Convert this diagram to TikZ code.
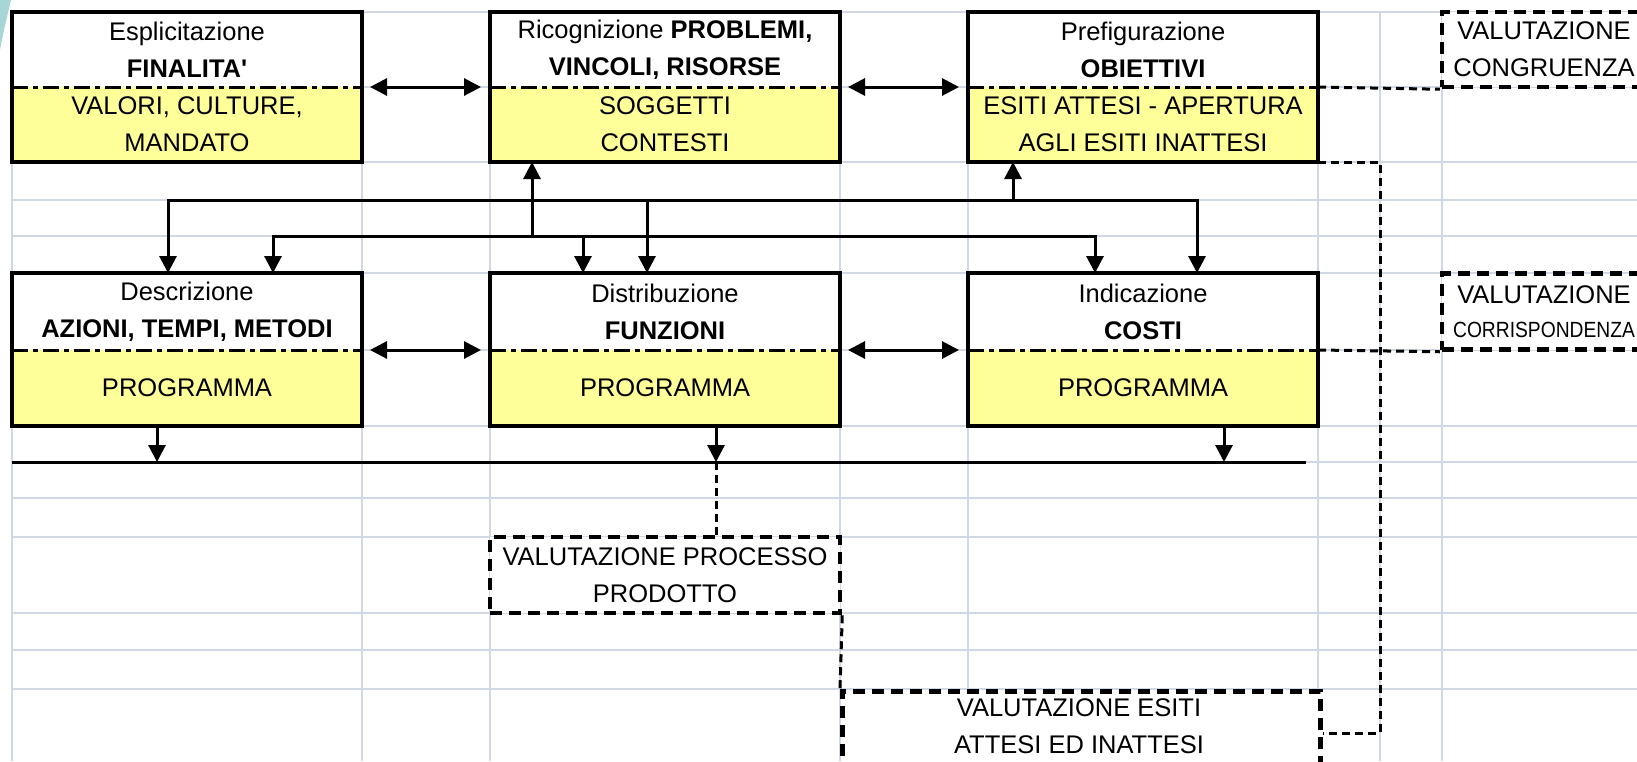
\documentclass[tikz,border=0pt]{standalone}
\usepackage{fontspec}
\setmainfont{Liberation Sans}
\usepackage{graphicx}
\usetikzlibrary{arrows.meta,calc}
\definecolor{gridc}{HTML}{D0D7E5}
\definecolor{yel}{HTML}{FFFF99}
\definecolor{tealdeco}{HTML}{A8D6D6}
\begin{document}
\begin{tikzpicture}[x=1pt,y=-1pt,
  font=\fontsize{25.5}{37}\selectfont,
  gridline/.style={gridc, line width=2.5pt},
  part/.style={minimum width=350pt, inner sep=0pt, outer sep=0pt, align=center},
  toppart/.style={part, fill=white, minimum height=75pt},
  botpart/.style={part, fill=yel, minimum height=75pt},
  frame/.style={line width=3.5pt},
  sepline/.style={line width=3pt, dash pattern=on 16pt off 5pt on 5pt off 5pt},
  evalbox/.style={draw, fill=white, line width=4.5pt, dash pattern=on 12pt off 7pt, inner sep=0pt, align=center},
  link/.style={line width=3pt},
  arr/.style={link, -{Triangle[length=17pt,width=17pt]}},
  arrboth/.style={link, {Triangle[length=17pt,width=17pt]}-{Triangle[length=17pt,width=17pt]}},
  dbl/.style={arrboth, shorten <=8pt, shorten >=9pt},
  dlink/.style={line width=3pt, dash pattern=on 8pt off 5pt},
]
\useasboundingbox (0,0) rectangle (1637,761);
\clip (0,0) rectangle (1637,761);
\fill[white] (0,0) rectangle (1637,761);
\fill[tealdeco] (0,0) -- (11,0) .. controls (7,17) and (3,33) .. (0,50) -- cycle;

% grid
\foreach \x in {12,362,490,840,968,1318,1380,1442}
  \draw[gridline] (\x,12) -- (\x,761);
\foreach \y in {12,87,162,200,236,273,350,426,462,498,537,613,650,689}
  \draw[gridline] (12,\y) -- (1637,\y);

% row 1
\node[toppart] (b1t) at (187,49.5) {Esplicitazione\\\textbf{FINALITA\textquotesingle}};
\node[botpart] (b1b) at (187,124.5) {VALORI, CULTURE,\\MANDATO};
\node[toppart] (b2t) at (665,49.5) {Ricognizione \textbf{PROBLEMI,}\\\textbf{VINCOLI, RISORSE}};
\node[botpart] (b2b) at (665,124.5) {SOGGETTI\\CONTESTI};
\node[toppart] (b3t) at (1143,49.5) {Prefigurazione\\\textbf{OBIETTIVI}};
\node[botpart] (b3b) at (1143,124.5) {ESITI ATTESI - APERTURA\\AGLI ESITI INATTESI};

% row 2
\node[toppart, minimum height=77pt] (b4t) at (187,311.5) {Descrizione\\\textbf{AZIONI, TEMPI, METODI}};
\node[botpart, minimum height=76pt] (b4b) at (187,388) {PROGRAMMA};
\node[toppart, minimum height=77pt] (b5t) at (665,311.5) {Distribuzione\\\textbf{FUNZIONI}};
\node[botpart, minimum height=76pt] (b5b) at (665,388) {PROGRAMMA};
\node[toppart, minimum height=77pt] (b6t) at (1143,311.5) {Indicazione\\\textbf{COSTI}};
\node[botpart, minimum height=76pt] (b6b) at (1143,388) {PROGRAMMA};

\foreach \b in {1,...,6}{
  \draw[sepline] (b\b b.north west) -- (b\b b.north east);
  \draw[frame] (b\b t.north west) rectangle (b\b b.south east);
}

% evaluation boxes
\node[evalbox, minimum width=204pt, minimum height=75pt] (cong) at (1544,49.5) {VALUTAZIONE\\CONGRUENZA};
\node[evalbox, minimum width=204pt, minimum height=76pt] (corr) at (1544,311.5) {VALUTAZIONE\\[-3pt]{\fontsize{22}{30}\selectfont\scalebox{0.875}[1]{CORRISPONDENZA}}};
\node[evalbox, minimum width=350pt, minimum height=76pt] (proc) at (665,575) {VALUTAZIONE PROCESSO\\PRODOTTO};
\node[evalbox, minimum width=478pt, minimum height=150pt, anchor=north west] (esiti) at (840,689) {};
\node[inner sep=0pt, align=center] (esititxt) at (1079,726) {VALUTAZIONE ESITI\\ATTESI ED INATTESI};

% horizontal double arrows
\draw[dbl] (b1b.north east) -- (b2b.north west);
\draw[dbl] (b2b.north east) -- (b3b.north west);
\draw[dbl] (b4b.north east) -- (b5b.north west);
\draw[dbl] (b5b.north east) -- (b6b.north west);

% distribution lines between rows
\coordinate (U1) at (168,200);
\coordinate (U2) at (1197,200);
\coordinate (U3) at (647,200);
\coordinate (U4) at (1013,200);
\coordinate (L1) at (273,236);
\coordinate (L2) at (1095,236);
\coordinate (L3) at (583,236);
\coordinate (L4) at (532,236);
\draw[arrboth] (U1 |- b4t.north) -- (U1) -- (U2) -- (U2 |- b6t.north);
\draw[arrboth] (L1 |- b4t.north) -- (L1) -- (L2) -- (L2 |- b6t.north);
\draw[arr] (U3) -- (U3 |- b5t.north);
\draw[arr] (L3) -- (L3 |- b5t.north);
\draw[arr] (L4) -- (L4 |- b2b.south);
\draw[arr] (U4) -- (U4 |- b3b.south);

% bottom collecting line
\coordinate (H1) at (12,462);
\coordinate (H2) at (1306,462);
\coordinate (A4) at (157,462);
\coordinate (A5) at (716,462);
\coordinate (A6) at (1224,462);
\draw[link] (H1) -- (H2);
\draw[arr] (A4 |- b4b.south) -- (A4);
\draw[arr] (A5 |- b5b.south) -- (A5);
\draw[arr] (A6 |- b6b.south) -- (A6);

% dashed connectors
\draw[dlink] (A5) -- (A5 |- proc.north);
\draw[dlink] (proc.south east) -- (esiti.north west);
\draw[dlink] (b3b.north east) -- (cong.south west);
\draw[dlink] (b6b.north east) -- (corr.south west);
\coordinate (R1) at (1380,162);
\coordinate (R2) at (1380,733);
\draw[dlink] (b3b.south east) -- (R1) -- (R2) -- (R2 -| esiti.east);
\end{tikzpicture}
\end{document}
